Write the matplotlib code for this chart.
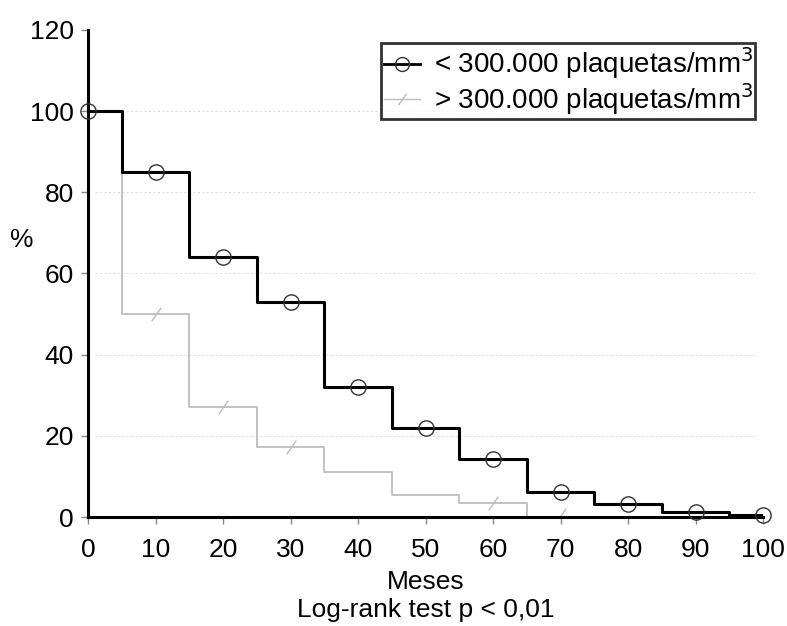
import matplotlib.pyplot as plt

plt.rcParams['font.family'] = ['Liberation Sans', 'DejaVu Sans']

# step curves (value held from each breakpoint to the next)
x_steps = [0, 5, 15, 25, 35, 45, 55, 65, 75, 85, 95, 100]
bajo = [100, 85, 64, 53, 32, 22, 14.3, 6.2, 3.2, 1.2, 0.5, 0.5]
alto = [100, 50, 27, 17.3, 11, 5.5, 3.4, 0, 0, 0, 0, 0]

# censoring markers
x_marks = [0, 10, 20, 30, 40, 50, 60, 70, 80, 90, 100]
bajo_marks = [100, 85, 64, 53, 32, 22, 14.3, 6.2, 3.2, 1.2, 0.5]
alto_x = [10, 20, 30, 60, 70]
alto_marks = [50, 27, 17.3, 3.4, 0.5]

lbl_bajo = '< 300.000 plaquetas/mm$^3$'
lbl_alto = '> 300.000 plaquetas/mm$^3$'

fig = plt.figure(figsize=(7.87, 6.26), dpi=100)
ax = fig.add_axes([0.1118, 0.1741, 0.858, 0.778])

# faint dotted lines
for yy in [100, 80, 60, 40, 20]:
    ax.axhline(yy, xmin=0.01, xmax=0.99, color='#e0e0e0', lw=0.8, ls=(0, (2, 2)), zorder=0)

ax.step(x_steps, alto, where='post', color='#bdbdbd', lw=1.3, zorder=2)
ax.plot(alto_x, alto_marks, ls='none', marker=(2, 0, -35), ms=12, mew=1,
        color='#bdbdbd', zorder=2)
ax.step(x_steps, bajo, where='post', color='black', lw=2.2, zorder=3)
ax.plot(x_marks, bajo_marks, ls='none', marker='o', ms=11, mfc='none',
        mec='#333333', mew=1, zorder=4, clip_on=False)

# legend proxies
ax.plot([], [], color='black', lw=2, marker='o', ms=10, mfc='none', mec='#333333', label=lbl_bajo)
ax.plot([], [], color='#bdbdbd', lw=1, marker=(2, 0, -35), ms=10, label=lbl_alto)
leg = ax.legend(loc='upper right', bbox_to_anchor=(0.988, 0.973), fontsize=20,
                frameon=True, fancybox=False, handlelength=1.3, handletextpad=0.5,
                borderpad=0.08, labelspacing=0.0, borderaxespad=0)
leg.get_frame().set_edgecolor('black')
leg.get_frame().set_linewidth(2)

ax.set_xlim(0, 100)
ax.set_ylim(0, 120)
ax.set_xticks(range(0, 101, 10))
ax.set_yticks(range(0, 121, 20))
ax.tick_params(labelsize=19, length=5, width=1, color='#888888', pad=5)
ax.tick_params(axis='x', pad=10)
ax.spines['top'].set_visible(False)
ax.spines['right'].set_visible(False)
ax.spines['left'].set_linewidth(2.2)
ax.spines['bottom'].set_linewidth(2.2)

ax.set_ylabel('%', fontsize=19, rotation=0, ha='center', va='center')
ax.yaxis.set_label_coords(-0.098, 0.569)
ax.set_xlabel('Meses\nLog-rank test p < 0,01', fontsize=19, linespacing=1.2, labelpad=6)

fig.savefig('out.png', dpi=100)
